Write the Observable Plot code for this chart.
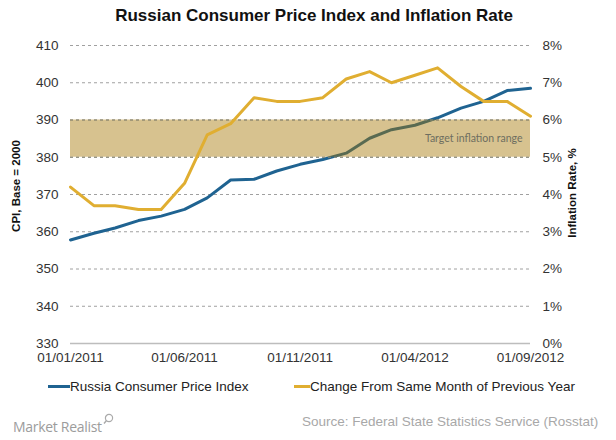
<!DOCTYPE html>
<html><head><meta charset="utf-8">
<script src="https://cdn.jsdelivr.net/npm/d3@7"></script>
<script src="https://cdn.jsdelivr.net/npm/@observablehq/plot@0.6"></script>
<style>
body{margin:0;background:#fff;font-family:"Liberation Sans",Arial,sans-serif;}
#wrap{position:relative;width:616px;height:440px;overflow:hidden;background:#fff;}
#wrap svg{position:absolute;left:0;top:0;}
.abs{position:absolute;white-space:nowrap;}
#title{top:6px;left:0;width:628px;text-align:center;font-weight:bold;font-size:17px;color:#111;}
.ytitle{font-weight:bold;font-size:11.5px;color:#111;transform:translate(-50%,-50%) rotate(-90deg);}
.leg{top:379px;font-size:13.5px;color:#222;line-height:16px;}
.sw{display:inline-block;width:22px;height:3px;vertical-align:middle;margin-right:0px;position:relative;top:-1px;}
#src{top:414px;left:302px;font-size:13.5px;color:#a8a8a8;}
#mr{top:417px;left:13px;font-family:"Open Sans",sans-serif;font-size:14px;color:#9c9c9c;letter-spacing:-0.3px;}
</style></head>
<body><div id="wrap"></div>
<script>
const months = ["2011-01-01","2011-02-01","2011-03-01","2011-04-01","2011-05-01","2011-06-01","2011-07-01","2011-08-01","2011-09-01","2011-10-01","2011-11-01","2011-12-01","2012-01-01","2012-02-01","2012-03-01","2012-04-01","2012-05-01","2012-06-01","2012-07-01","2012-08-01","2012-09-01"];
const cpi = [357.8,359.6,361.0,363.0,364.2,366.0,369.1,373.9,374.1,376.3,378.1,379.4,381.1,385.1,387.4,388.6,390.6,393.2,395.0,397.9,398.5];
const inflation = [4.2,3.7,3.7,3.6,3.6,4.3,5.6,5.9,6.6,6.5,6.5,6.6,7.1,7.3,7.0,7.2,7.4,6.9,6.5,6.5,6.1];
const cpiTicks = [330,340,350,360,370,380,390,400,410];
const pctTicks = [0,1,2,3,4,5,6,7,8];
const xTickLabels = ["01/01/2011","01/06/2011","01/11/2011","01/04/2012","01/09/2012"];
const targetRange = [5,6];
const seriesNames = ["Russia Consumer Price Index","Change From Same Month of Previous Year"];
const titleText = "Russian Consumer Price Index and Inflation Rate";
const leftTitle = "CPI, Base = 2000";
const rightTitle = "Inflation Rate, %";
const sourceText = "Source: Federal State Statistics Service (Rosstat)";
const brandText = "Market Realist";
const bandText = "Target inflation range";

const BLUE = "#1f6391", GOLD = "#e0ae31";
const parseISO = d3.utcParse("%Y-%m-%d");
const parseTick = d3.utcParse("%d/%m/%Y");
const fmtTick = d3.utcFormat("%d/%m/%Y");
// map percent onto CPI scale (both axes span 80 units over 8 steps)
const pctToY = p => cpiTicks[0] + p * (cpiTicks[cpiTicks.length-1]-cpiTicks[0])/(pctTicks[pctTicks.length-1]-pctTicks[0]);

const data = months.map((m,i)=>({date:parseISO(m), cpi:cpi[i], infl:pctToY(inflation[i])}));
const x0 = data[0].date, x1 = data[data.length-1].date;

const plot = Plot.plot({
  width:616, height:440,
  marginTop:45, marginBottom:97, marginLeft:70, marginRight:86,
  style:{fontFamily:"Liberation Sans, Arial, sans-serif", fontSize:"13.5px", color:"#333", background:"transparent"},
  x:{type:"utc", domain:[x0,x1]},
  y:{domain:[cpiTicks[0], cpiTicks[cpiTicks.length-1]]},
  marks:[
    Plot.ruleY(cpiTicks.slice(1), {stroke:"#a0a0a0", strokeWidth:1, strokeDasharray:"3,3"}),
    Plot.line(data, {x:"date", y:"cpi", stroke:BLUE, strokeWidth:3, strokeLinejoin:"round"}),
    Plot.rectY([targetRange], {x1:()=>x0, x2:()=>x1, y1:d=>pctToY(d[0]), y2:d=>pctToY(d[1]), fill:"#a47400", fillOpacity:0.44}),
    Plot.ruleY(cpiTicks.filter(v=>v===pctToY(targetRange[0])||v===pctToY(targetRange[1])), {stroke:"#8a8a7a", strokeWidth:1, strokeDasharray:"3,3"}),
    Plot.line(data, {x:"date", y:"infl", stroke:GOLD, strokeWidth:3, strokeLinejoin:"round"}),
    Plot.ruleY([cpiTicks[0]], {stroke:"#bdbdbd", strokeWidth:1.5}),
    Plot.text([bandText], {x:()=>x1, y:()=>pctToY((targetRange[0]+targetRange[1])/2), text:d=>d, textAnchor:"end", dx:-8, fill:"#6e6e60", fontSize:10.5, fontFamily:"Lato, sans-serif"}),
    Plot.axisY(cpiTicks, {anchor:"left", tickSize:0, tickPadding:12, label:null, fill:"#333"}),
    Plot.axisY(pctTicks.map(pctToY), {anchor:"right", tickSize:0, tickPadding:12, label:null, tickFormat:(d,i)=>pctTicks[i]+"%", fill:"#333"}),
    Plot.axisX(xTickLabels.map(parseTick), {tickSize:0, tickPadding:9, label:null, tickFormat:fmtTick, fill:"#333"})
  ]
});

const wrap = document.getElementById("wrap");
wrap.appendChild(plot);
function add(html, cls, style){const d=document.createElement("div");d.className="abs "+cls;d.innerHTML=html;if(style)Object.assign(d.style,style);wrap.appendChild(d);return d;}
const t = add(titleText,""); t.id="title";
add(leftTitle,"ytitle",{left:"16px",top:"186px"});
add(rightTitle,"ytitle",{left:"572px",top:"193px"});
add(`<span class="sw" style="background:${BLUE}"></span>${seriesNames[0]}`,"leg",{left:"48px"});
add(`<span class="sw" style="background:${GOLD};width:16px"></span>${seriesNames[1]}`,"leg",{left:"294px"});
const s = add(sourceText,""); s.id="src";
const m = add(brandText+`<svg width="11" height="12" style="position:relative;top:-7px;left:1px"><circle cx="6" cy="5" r="3.6" fill="none" stroke="#aaa" stroke-width="1.2"/><line x1="3.5" y1="7.5" x2="1" y2="10.5" stroke="#aaa" stroke-width="1.4"/></svg>`,""); m.id="mr";
</script>
</body></html>
